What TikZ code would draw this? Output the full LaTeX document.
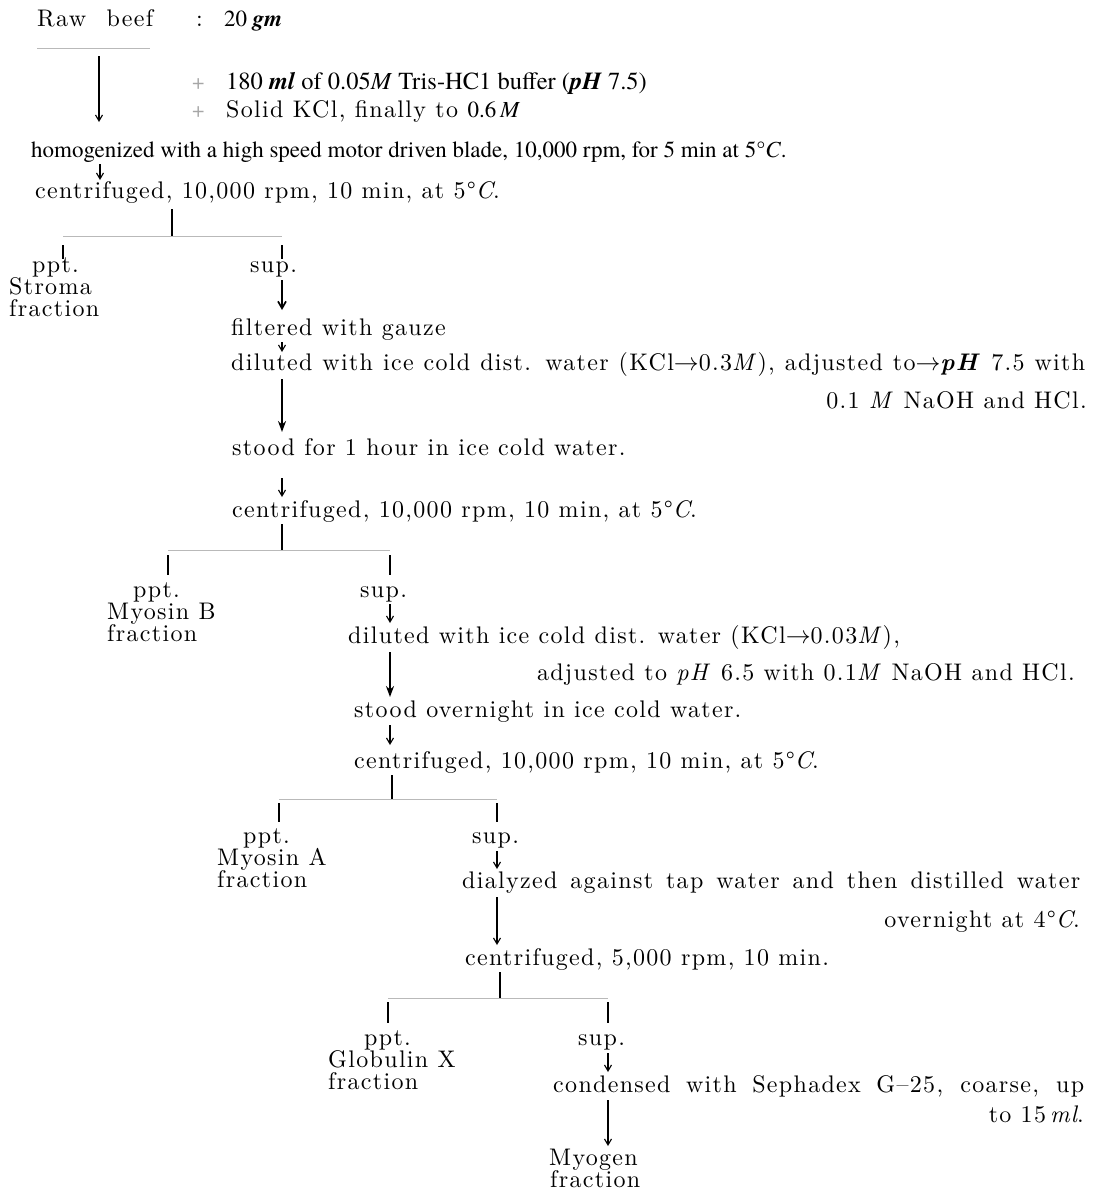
\documentclass[tikz,border=0pt]{standalone}
\usepackage{fontspec}
\newfontfamily\timesfont{texgyretermes-regular.otf}[ItalicFont=texgyretermes-italic.otf, BoldFont=texgyretermes-bold.otf, BoldItalicFont=texgyretermes-bolditalic.otf, Ligatures=TeX]
\newfontfamily\lmwide{lmroman10-regular.otf}[ItalicFont=lmroman10-italic.otf, BoldFont=lmroman10-bold.otf, BoldItalicFont=lmroman10-bolditalic.otf, Ligatures=TeX, LetterSpace=5.5]
\usetikzlibrary{arrows.meta}

\begin{document}
\begin{tikzpicture}[
  x=1pt, y=-1pt,
  lm/.style={anchor=base west, inner sep=0pt, font=\lmwide\fontsize{24}{22}\selectfont},
  lmr/.style={anchor=base east, inner sep=0pt, font=\lmwide\fontsize{24}{22}\selectfont},
  tm/.style={anchor=base west, inner sep=0pt, font=\timesfont\fontsize{23}{23}\selectfont},
  plus/.style={anchor=base west, inner sep=0pt, text=gray!70, font=\timesfont\fontsize{22}{23}\selectfont},
  arrow/.style={-{Straight Barb[length=6pt,width=7pt]}, line width=1.1pt},
  boldarrow/.style={-{Straight Barb[length=7pt,width=8pt]}, line width=1.7pt},
  heavy/.style={-{Stealth[length=11pt,width=8pt]}, line width=2.6pt},
  stem/.style={line width=1.1pt},
  branch/.style={line width=0.7pt, gray!55}
]
\useasboundingbox (0,0) rectangle (1094,1191);

% starting material and additions
\node[lm] (beef) at (37,27) {\makebox[116pt][s]{Raw beef}};
\node[lm] (colon) at (196,27) {:};
\node[tm] (amount) at (224,27) {20 \textbf{\textit{gm}}};
\node[plus] (plusa) at (192,89) {+};
\node[tm, font=\timesfont\fontsize{24.5}{24}\selectfont] (buffer) at (226,89) {180 \textbf{\textit{ml}} of 0.05\textit{M} Tris-HC1 buffer (\textbf{\textit{pH}} 7.5)};
\node[plus] (plusb) at (192,117) {+};
\node[lm] (kcl) at (226,117) {Solid KCl, finally to\hspace{0.4em}{\timesfont\fontsize{23}{23}\selectfont 0.6\,\textit{M}}};

\node[tm] (homog) at (31,157) {homogenized with a high speed motor driven blade, 10,000 rpm, for 5 min at 5°\textit{C}.};
\node[lm] (cent1) at (35,198) {centrifuged, 10,000 rpm, 10 min, at 5°\textit{C}.};

% first split
\node[lm] (ppt1) at (32,272) {ppt.};
\node[lm] (stroma) at (9,294) {Stroma};
\node[lm] (fracs) at (9,316) {fraction};
\node[lm] (sup1) at (250,272) {sup.};
\node[lm] (filt) at (231,335) {filtered with gauze};
\node[lm] (dil1) at (231,370) {\makebox[854pt][s]{diluted with ice cold dist. water (KCl$\rightarrow$0.3\textit{M}), adjusted to$\rightarrow$\textbf{\textit{pH}} 7.5 with}};
\node[lmr] (naoh1) at (1087,408) {0.1 \textit{M} NaOH and HCl.};
\node[lm] (stood1) at (232,455) {stood for 1 hour in ice cold water.};
\node[lm] (cent2) at (232,517) {centrifuged, 10,000 rpm, 10 min, at 5°\textit{C}.};

% second split
\node[lm] (ppt2) at (133,597) {ppt.};
\node[lm] (myob) at (107,619) {Myosin B};
\node[lm] (fracb) at (107,641) {fraction};
\node[lm] (sup2) at (360,597) {sup.};
\node[lm] (dil2) at (348,643) {diluted with ice cold dist. water (KCl$\rightarrow$0.03\textit{M}),};
\node[lmr] (adj2) at (1075,680) {adjusted to \textit{pH} 6.5 with 0.1\textit{M} NaOH and HCl.};
\node[lm] (stood2) at (354,717) {stood overnight in ice cold water.};
\node[lm] (cent3) at (354,768) {centrifuged, 10,000 rpm, 10 min, at 5°\textit{C}.};

% third split
\node[lm] (ppt3) at (243,843) {ppt.};
\node[lm] (myoa) at (217,865) {Myosin A};
\node[lm] (fraca) at (217,887) {fraction};
\node[lm] (sup3) at (472,843) {sup.};
\node[lm] (dial) at (462,888) {\makebox[618pt][s]{dialyzed against tap water and then distilled water}};
\node[lmr] (ovn) at (1080,927) {overnight at 4°\textit{C}.};
\node[lm] (cent4) at (465,965) {centrifuged, 5,000 rpm, 10 min.};

% fourth split
\node[lm] (ppt4) at (364,1045) {ppt.};
\node[lm] (globx) at (328,1067) {Globulin X};
\node[lm] (fracx) at (328,1089) {fraction};
\node[lm] (sup4) at (578,1045) {sup.};
\node[lm] (cond) at (553,1092) {\makebox[531pt][s]{condensed with Sephadex G--25, coarse, up}};
\node[lmr] (to15) at (1084,1122) {to 15\,\textit{ml}.};
\node[lm] (myogen) at (549,1165) {Myogen};
\node[lm] (fracm) at (550,1187) {fraction};

% connector points
\coordinate (rawl) at (37,48);
\coordinate (rawr) at (150,48);
\coordinate (a0s) at (99,56);
\coordinate (a0e) at (99,122);
\coordinate (a1s) at (100,164);
\coordinate (a1e) at (100,180);
\coordinate (j1) at (172,209);
\coordinate (j1b) at (172,236);
\coordinate (b1l) at (63,236);
\coordinate (b1r) at (282,236);
\coordinate (s1l) at (63,245);
\coordinate (s1le) at (63,259);
\coordinate (s1r) at (282,245);
\coordinate (s1re) at (282,259);
\coordinate (a2s) at (282,280);
\coordinate (a2e) at (282,310);
\coordinate (a3s) at (282,342);
\coordinate (a3e) at (282,352);
\coordinate (a4s) at (282,379);
\coordinate (a4e) at (282,432);
\coordinate (a5s) at (282,478);
\coordinate (a5e) at (282,497);
\coordinate (j2) at (282,524);
\coordinate (j2b) at (282,550);
\coordinate (b2l) at (168,550);
\coordinate (b2r) at (390,550);
\coordinate (s2l) at (168,555);
\coordinate (s2le) at (168,575);
\coordinate (s2r) at (390,555);
\coordinate (s2re) at (390,575);
\coordinate (a6s) at (390,604);
\coordinate (a6e) at (390,623);
\coordinate (a7s) at (390,652);
\coordinate (a7e) at (390,697);
\coordinate (a8s) at (390,725);
\coordinate (a8e) at (390,745);
\coordinate (j3) at (392,775);
\coordinate (j3b) at (392,799);
\coordinate (b3l) at (279,799);
\coordinate (b3r) at (497,799);
\coordinate (s3l) at (279,803);
\coordinate (s3le) at (279,822);
\coordinate (s3r) at (497,803);
\coordinate (s3re) at (497,822);
\coordinate (a9s) at (497,851);
\coordinate (a9e) at (497,869);
\coordinate (a10s) at (497,897);
\coordinate (a10e) at (497,945);
\coordinate (j4) at (500,972);
\coordinate (j4b) at (500,998);
\coordinate (b4l) at (388,998);
\coordinate (b4r) at (608,998);
\coordinate (s4l) at (388,1002);
\coordinate (s4le) at (388,1023);
\coordinate (s4r) at (608,1002);
\coordinate (s4re) at (608,1023);
\coordinate (a11s) at (608,1053);
\coordinate (a11e) at (608,1072);
\coordinate (a12s) at (608,1100);
\coordinate (a12e) at (608,1146);

% main line
\draw[branch] (rawl) -- (rawr);
\draw[arrow] (a0s) -- (a0e);
\draw[arrow] (a1s) -- (a1e);

\draw[stem] (j1) -- (j1b);
\draw[branch] (b1l) -- (b1r);
\draw[stem] (s1l) -- (s1le);
\draw[stem] (s1r) -- (s1re);
\draw[boldarrow] (a2s) -- (a2e);
\draw[arrow] (a3s) -- (a3e);
\draw[heavy] (a4s) -- (a4e);
\draw[arrow] (a5s) -- (a5e);

\draw[stem] (j2) -- (j2b);
\draw[branch] (b2l) -- (b2r);
\draw[stem] (s2l) -- (s2le);
\draw[stem] (s2r) -- (s2re);
\draw[arrow] (a6s) -- (a6e);
\draw[heavy] (a7s) -- (a7e);
\draw[arrow] (a8s) -- (a8e);

\draw[stem] (j3) -- (j3b);
\draw[branch] (b3l) -- (b3r);
\draw[stem] (s3l) -- (s3le);
\draw[stem] (s3r) -- (s3re);
\draw[arrow] (a9s) -- (a9e);
\draw[arrow] (a10s) -- (a10e);

\draw[stem] (j4) -- (j4b);
\draw[branch] (b4l) -- (b4r);
\draw[stem] (s4l) -- (s4le);
\draw[stem] (s4r) -- (s4re);
\draw[arrow] (a11s) -- (a11e);
\draw[arrow] (a12s) -- (a12e);

\end{tikzpicture}
\end{document}
